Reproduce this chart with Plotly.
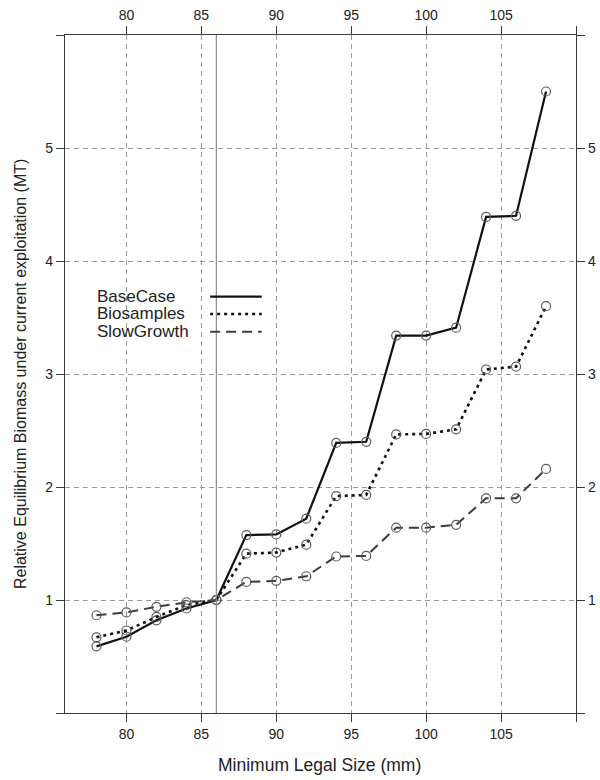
import plotly.graph_objects as go

# ---- data ----
sizes = [78, 80, 82, 84, 86, 88, 90, 92, 94, 96, 98, 100, 102, 104, 106, 108]
base_case = [0.59, 0.675, 0.82, 0.925, 1.0, 1.575, 1.58, 1.72, 2.39, 2.40, 3.34, 3.34, 3.41, 4.39, 4.40, 5.50]
biosamples = [0.67, 0.73, 0.85, 0.955, 1.0, 1.41, 1.42, 1.49, 1.92, 1.93, 2.465, 2.47, 2.51, 3.04, 3.065, 3.60]
slow_growth = [0.865, 0.89, 0.94, 0.98, 1.0, 1.16, 1.17, 1.21, 1.385, 1.39, 1.64, 1.64, 1.665, 1.90, 1.90, 2.16]
series_names = ["BaseCase", "Biosamples", "SlowGrowth"]
ref_size = 86

x_tickvals = [80, 85, 90, 95, 100, 105, 110]
x_ticktext = ["80", "85", "90", "95", "100", "105", ""]
y_tickvals = [0, 1, 2, 3, 4, 5, 6]
y_ticktext = ["", "1", "2", "3", "4", "5", ""]

# ---- styles ----
FONT = "Liberation Sans, Arial, sans-serif"
AXC = "#3a3a3a"
styles = [
    dict(color="#111111", width=2.2, dash="solid"),
    dict(color="#111111", width=2.6, dash="3px,4px"),
    dict(color="#3c3c3c", width=2.0, dash="10px,6px"),
]
series = [base_case, biosamples, slow_growth]

fig = go.Figure()

for name, ys, st in zip(series_names, series, styles):
    fig.add_trace(go.Scatter(
        x=sizes, y=ys, mode="lines+markers", name=name, showlegend=False,
        line=dict(color=st["color"], width=st["width"], dash=st["dash"]),
        marker=dict(symbol="circle-open", size=9, color="#5a5a5a", line=dict(width=1.2)),
    ))

# invisible trace to carry the top/right axes
fig.add_trace(go.Scatter(x=sizes, y=base_case, xaxis="x2", yaxis="y2",
                         mode="markers", marker=dict(opacity=0), showlegend=False,
                         hoverinfo="skip"))

fig.add_vline(x=ref_size, line=dict(color="#8a8a8a", width=1.2))

xr = [75.9, 110]
yr = [0, 6]
common_axis = dict(
    ticks="outside", ticklen=8, tickwidth=1.2, tickcolor=AXC,
    tickfont=dict(family=FONT, size=14, color="#222"),
    showline=True, linecolor=AXC, linewidth=1.2, zeroline=False, automargin=False,
)
fig.update_layout(
    width=600, height=780,
    margin=dict(l=65, r=24, t=35, b=67),
    paper_bgcolor="white", plot_bgcolor="white",
    showlegend=False,
    xaxis=dict(range=xr, tickvals=x_tickvals, ticktext=x_ticktext, mirror=True,
               showgrid=True, gridcolor="#9a9a9a", gridwidth=1, griddash="5px,4px",
               **common_axis),
    yaxis=dict(range=yr, tickvals=y_tickvals, ticktext=y_ticktext, mirror=True,
               showgrid=True, gridcolor="#9a9a9a", gridwidth=1, griddash="5px,4px",
               **common_axis),
    xaxis2=dict(range=xr, tickvals=x_tickvals, ticktext=x_ticktext, overlaying="x",
                side="top", anchor="y", showgrid=False, **common_axis),
    yaxis2=dict(range=yr, tickvals=y_tickvals, ticktext=y_ticktext, overlaying="y",
                side="right", anchor="x", showgrid=False, **common_axis),
)

# axis titles
fig.add_annotation(text="Minimum Legal Size (mm)", xref="paper", yref="paper",
                   x=0.499, y=-0.077, showarrow=False, xanchor="center", yanchor="middle",
                   font=dict(family=FONT, size=17.5, color="#222"))
fig.add_annotation(text="Relative Equilibrium Biomass under current exploitation (MT)",
                   xref="paper", yref="paper", x=-0.088, y=0.5, textangle=-90,
                   showarrow=False, xanchor="center", yanchor="middle",
                   font=dict(family=FONT, size=16, color="#222"))

# manual legend (text left, line sample right)
leg_y = [0.614, 0.5885, 0.5625]
for name, st, yy in zip(series_names, styles, leg_y):
    fig.add_annotation(text=name, xref="paper", yref="paper", x=0.058, y=yy,
                       showarrow=False, xanchor="left", yanchor="middle",
                       font=dict(family=FONT, size=17, color="#222"))
    fig.add_shape(type="line", xref="paper", yref="paper", x0=0.284, x1=0.385, y0=yy, y1=yy,
                  line=dict(color=st["color"], width=st["width"], dash=st["dash"]))

fig.write_html(
    "out.html",
    config={"displayModeBar": False},
    post_script="document.body.style.margin='0';document.body.style.padding='0';"
                "document.documentElement.style.overflow='hidden';",
)
